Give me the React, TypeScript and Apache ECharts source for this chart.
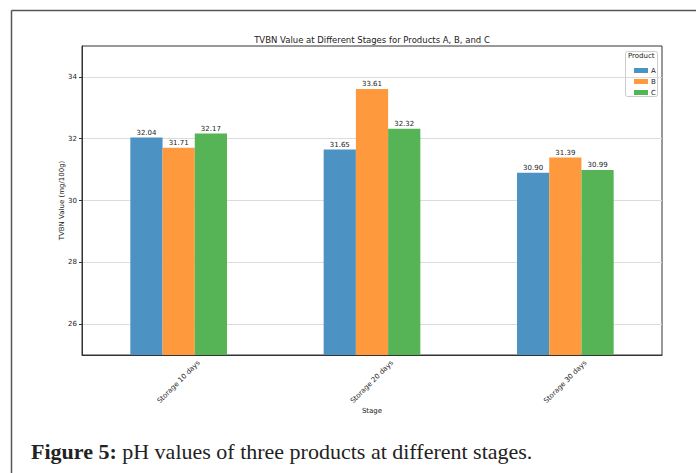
import React, { useEffect, useRef } from "react";
import * as echarts from "echarts";

const stages = ["Storage 10 days", "Storage 20 days", "Storage 30 days"];
const productA = [32.04, 31.65, 30.9];
const productB = [31.71, 33.61, 31.39];
const productC = [32.17, 32.32, 30.99];
const yTicks = [26, 28, 30, 32, 34];

const colors = ["#4c92c3", "#ff993e", "#56b356"];

export default function App() {
  const ref = useRef<HTMLDivElement>(null);

  useEffect(() => {
    if (!ref.current) return;
    const chart = echarts.init(ref.current, null, { renderer: "svg" });

    const mkSeries = (name: string, data: number[], color: string) => ({
      name,
      type: "bar",
      data,
      barGap: "0%",
      barCategoryGap: "50%",
      itemStyle: { color },
      label: {
        show: true,
        position: "top",
        distance: 1,
        fontSize: 7,
        fontFamily: "DejaVu Sans",
        color: "#222",
        formatter: (p: any) => Number(p.value).toFixed(2),
      },
    });

    chart.setOption({
      animation: false,
      backgroundColor: "#ffffff",
      title: {
        text: "TVBN Value at Different Stages for Products A, B, and C",
        left: 372,
        top: 35,
        padding: 0,
        textAlign: "center",
        textStyle: {
          fontFamily: "DejaVu Sans",
          fontSize: 8.5,
          fontWeight: "normal",
          color: "#222",
        },
      },
      legend: {
        orient: "vertical",
        left: 629,
        top: 62,
        itemWidth: 14,
        itemHeight: 5,
        itemGap: 4,
        icon: "rect",
        data: ["A", "B", "C"],
        textStyle: { fontFamily: "DejaVu Sans", fontSize: 7, color: "#222", padding: [0, 0, 0, -2] },
      },
      grid: {
        left: 82,
        top: 46,
        right: 34,
        bottom: 118,
        show: true,
        borderColor: "#333",
        borderWidth: 1,
        backgroundColor: "transparent",
      },
      xAxis: {
        type: "category",
        data: stages,
        name: "Stage",
        nameLocation: "middle",
        nameGap: 52,
        nameMoveOverlap: false,
        nameTextStyle: { fontFamily: "DejaVu Sans", fontSize: 7, color: "#222" },
        axisLine: { lineStyle: { color: "#333" } },
        axisTick: { alignWithLabel: true, length: 3, lineStyle: { color: "#333" } },
        axisLabel: {
          rotate: 45,
          align: "center",
          verticalAlign: "middle",
          margin: 27,
          fontFamily: "DejaVu Sans",
          fontSize: 7,
          color: "#222",
        },
      },
      yAxis: {
        type: "value",
        min: 25,
        max: 35,
        name: "TVBN Value (mg/100g)",
        nameLocation: "middle",
        nameGap: 17,
        nameMoveOverlap: false,
        nameTextStyle: { fontFamily: "DejaVu Sans", fontSize: 7, color: "#222" },
        axisLine: { show: true, lineStyle: { color: "#333" } },
        axisTick: { show: true, length: 3, lineStyle: { color: "#333" }, customValues: yTicks },
        axisLabel: {
          customValues: yTicks,
          margin: 5,
          fontFamily: "DejaVu Sans",
          fontSize: 7,
          color: "#222",
        },
        splitLine: { show: true, lineStyle: { color: "#dcdcdc", width: 1 } },
      },
      graphic: [
        // figure frame
        { type: "line", shape: { x1: 11.5, y1: 10.5, x2: 696, y2: 10.5 }, style: { stroke: "#555", lineWidth: 1.5 } },
        { type: "line", shape: { x1: 11.5, y1: 10.5, x2: 11.5, y2: 473 }, style: { stroke: "#555", lineWidth: 1.5 } },
        // legend box
        {
          type: "rect",
          shape: { x: 625.5, y: 51.5, width: 32, height: 45, r: 2 },
          style: { fill: "rgba(255,255,255,0.85)", stroke: "#cccccc", lineWidth: 1 },
          z: 0,
        },
        {
          type: "text",
          left: 628,
          top: 52,
          style: { text: "Product", fontFamily: "DejaVu Sans", fontSize: 7, fill: "#222" },
        },
        // caption
        {
          type: "text",
          left: 31,
          top: 440,
          style: {
            text: "{b|Figure 5:} pH values of three products at different stages.",
            rich: {
              b: { fontFamily: "Liberation Serif", fontSize: 22, fontWeight: "bold", fill: "#222" },
            },
            fontFamily: "Liberation Serif",
            fontSize: 22,
            fill: "#222",
          },
        },
      ],
      series: [
        mkSeries("A", productA, colors[0]),
        mkSeries("B", productB, colors[1]),
        mkSeries("C", productC, colors[2]),
      ],
    });

    return () => chart.dispose();
  }, []);

  return (
    <div
      ref={ref}
      style={{ position: "fixed", left: 0, top: 0, width: 696, height: 473 }}
    />
  );
}
